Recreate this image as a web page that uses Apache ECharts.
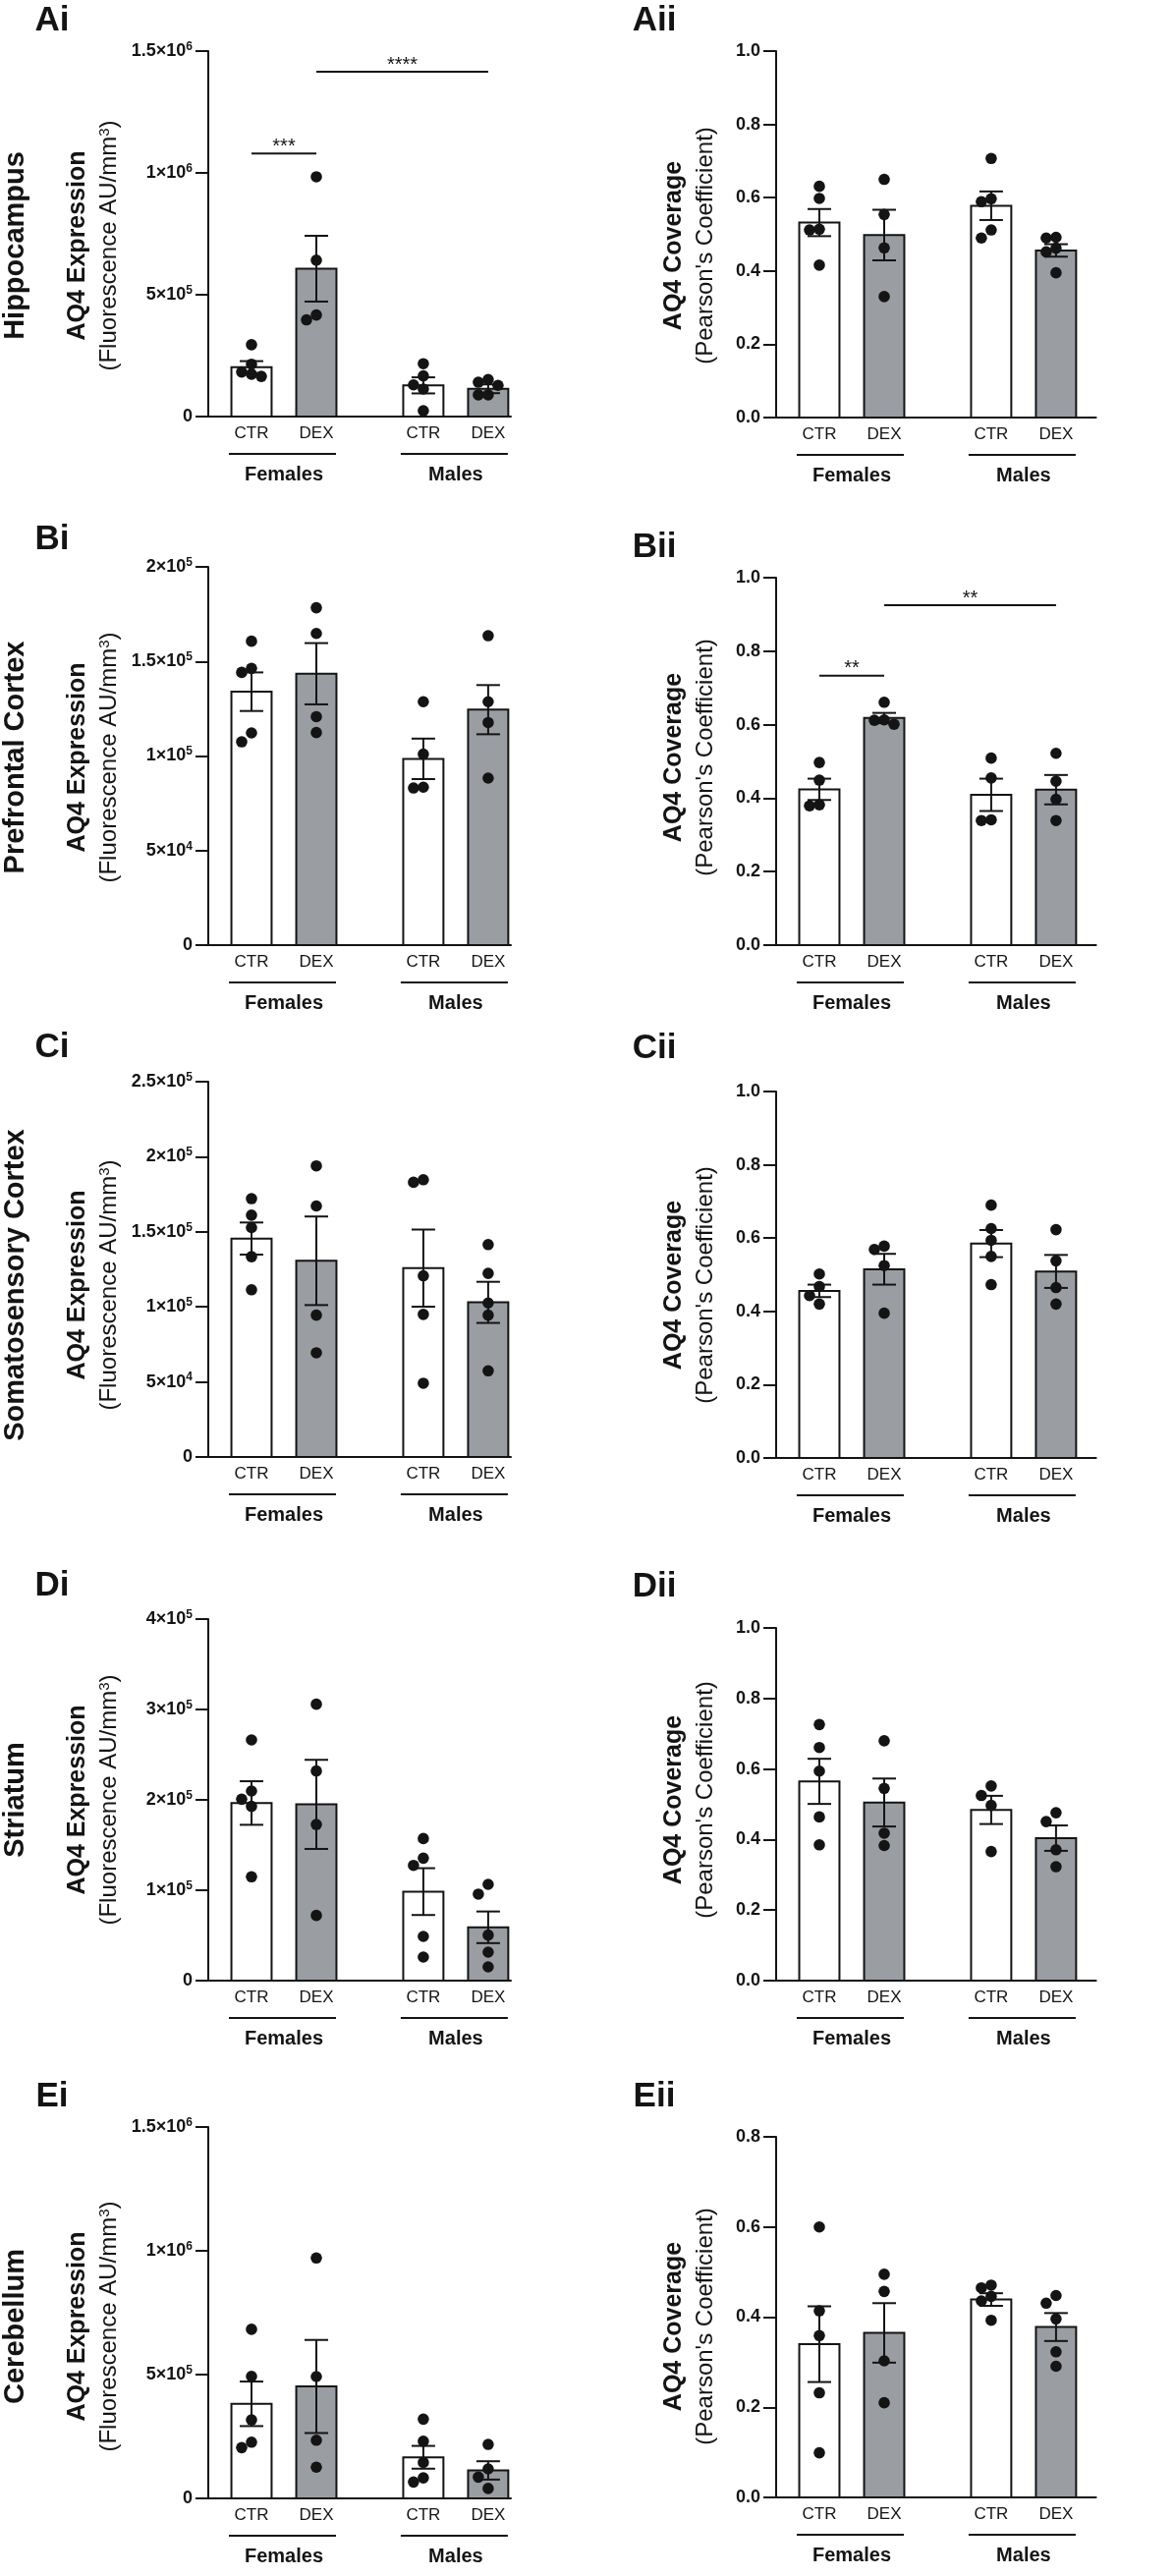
<!DOCTYPE html>
<html>
<head>
<meta charset="utf-8">
<script src="https://cdn.jsdelivr.net/npm/echarts@6/dist/echarts.min.js"></script>
<style>
  html, body { margin: 0; padding: 0; background: #fff; }
  #chart { width: 1196px; height: 2622px; }
</style>
</head>
<body>
<div id="chart"></div>
<script>
// ---- data ----
var groupLabels = ["CTR", "DEX", "CTR", "DEX"];
var sexLabels = ["Females", "Males"];
var regionNames = ["Hippocampus", "Prefrontal Cortex", "Somatosensory Cortex", "Striatum", "Cerebellum"];
var panelLetters = [["Ai", "Aii"], ["Bi", "Bii"], ["Ci", "Cii"], ["Di", "Dii"], ["Ei", "Eii"]];

var exprMax = [1.5e6, 2e5, 2.5e5, 4e5, 1.5e6];
var exprStep = [5e5, 5e4, 5e4, 1e5, 5e5];
var covMax = [1, 1, 1, 1, 0.8];
var covStep = 0.2;

// mean and SEM per bar: CTR F, DEX F, CTR M, DEX M
var exprMean = [
  [2.03e5, 6.07e5, 1.28e5, 1.14e5],
  [1.34e5, 1.435e5, 0.985e5, 1.245e5],
  [1.455e5, 1.307e5, 1.258e5, 1.03e5],
  [1.965e5, 1.95e5, 0.985e5, 0.59e5],
  [3.82e5, 4.52e5, 1.66e5, 1.13e5]
];
var exprSem = [
  [0.245e5, 1.35e5, 0.33e5, 0.18e5],
  [0.102e5, 0.162e5, 0.107e5, 0.13e5],
  [0.107e5, 0.295e5, 0.257e5, 0.137e5],
  [0.241e5, 0.493e5, 0.259e5, 0.175e5],
  [0.9e5, 1.88e5, 0.46e5, 0.37e5]
];
var exprPoints = [
  [[2.95e5, 2.15e5, 1.83e5, 1.74e5, 1.65e5], [9.84e5, 6.42e5, 4.17e5, 3.97e5], [2.17e5, 1.67e5, 1.30e5, 1.13e5, 0.24e5], [1.52e5, 1.41e5, 1.28e5, 0.89e5, 0.89e5]],
  [[1.607e5, 1.463e5, 1.442e5, 1.122e5, 1.075e5], [1.784e5, 1.648e5, 1.208e5, 1.124e5], [1.287e5, 1.010e5, 0.835e5, 0.831e5], [1.636e5, 1.287e5, 1.177e5, 0.883e5]],
  [[1.721e5, 1.611e5, 1.528e5, 1.334e5, 1.114e5], [1.939e5, 1.672e5, 0.945e5, 0.694e5], [1.847e5, 1.830e5, 1.207e5, 0.950e5, 0.491e5], [1.415e5, 1.223e5, 1.026e5, 0.945e5, 0.574e5]],
  [[2.663e5, 2.098e5, 2.007e5, 1.928e5, 1.149e5], [3.058e5, 2.319e5, 1.728e5, 0.721e5], [1.572e5, 1.355e5, 1.275e5, 0.489e5, 0.261e5], [1.065e5, 0.957e5, 0.504e5, 0.315e5, 0.152e5]],
  [[6.83e5, 4.93e5, 3.17e5, 2.27e5, 2.05e5], [9.71e5, 4.92e5, 2.35e5, 1.26e5], [3.20e5, 2.31e5, 1.45e5, 0.83e5, 0.66e5], [2.18e5, 1.19e5, 0.86e5, 0.40e5]]
];

var covMean = [
  [0.532, 0.498, 0.578, 0.456],
  [0.424, 0.618, 0.409, 0.423],
  [0.456, 0.515, 0.585, 0.509],
  [0.565, 0.505, 0.484, 0.404],
  [0.340, 0.365, 0.439, 0.378]
];
var covSem = [
  [0.037, 0.069, 0.039, 0.017],
  [0.029, 0.014, 0.044, 0.040],
  [0.017, 0.042, 0.037, 0.045],
  [0.064, 0.068, 0.040, 0.036],
  [0.084, 0.066, 0.014, 0.031]
];
var covPoints = [
  [[0.631, 0.598, 0.514, 0.512, 0.416], [0.650, 0.554, 0.463, 0.330], [0.707, 0.597, 0.589, 0.512, 0.490], [0.492, 0.490, 0.462, 0.452, 0.395]],
  [[0.497, 0.449, 0.382, 0.379], [0.661, 0.613, 0.612, 0.601], [0.509, 0.455, 0.341, 0.339], [0.522, 0.446, 0.397, 0.339]],
  [[0.502, 0.468, 0.443, 0.420], [0.578, 0.569, 0.525, 0.395], [0.690, 0.626, 0.594, 0.550, 0.473], [0.623, 0.538, 0.465, 0.420]],
  [[0.726, 0.661, 0.594, 0.464, 0.385], [0.680, 0.545, 0.418, 0.383], [0.552, 0.525, 0.497, 0.366], [0.476, 0.451, 0.371, 0.323]],
  [[0.600, 0.414, 0.359, 0.232, 0.099], [0.495, 0.457, 0.303, 0.210], [0.471, 0.465, 0.446, 0.436, 0.393], [0.448, 0.431, 0.396, 0.323, 0.291]]
];

// significance bars: [from bar, to bar, height, label]
var exprSig = [[[0, 1, 1.08e6, "***"], [1, 3, 1.415e6, "****"]], [], [], [], []];
var covSig = [[], [[0, 1, 0.733, "**"], [1, 3, 0.925, "**"]], [], [], []];

(function () {
  "use strict";

  // ---- layout ----
  var FONT = '"Liberation Sans", Arial, Helvetica, sans-serif';
  var INK = "#141414";
  var GRAY = "#9a9da2";
  var UNIT = 22;                       // px per x unit
  var barX = [2, 5, 9.95, 12.95];      // bar centres in x units
  var BAR_W = 1.86;
  var colAxisX = [212, 790];
  var colXMax = [14, 14.8];
  var rowTop = [[52, 52], [577, 588], [1101, 1111], [1648, 1657], [2165, 2175]];
  var rowZero = [[424, 425], [962, 962], [1483, 1484], [2016, 2016], [2543, 2542]];
  var letterY = [[21, 21], [549, 557], [1066, 1067], [1614, 1615], [2134, 2134]];
  var letterX = [53, 666];
  var titleY = [250, 771, 1308, 1832, 2368];
  var titleX = [[79, 111], [686, 718]];
  var DOT_R = 5.8;

  function sciLabel(v) {
    if (v === 0) return "{m|0}";
    var e = Math.floor(Math.log10(v) + 1e-9);
    var m = Math.round(v / Math.pow(10, e) * 10) / 10;
    return "{m|" + m + "\u00d710}{e|" + e + "}";
  }

  // simple beeswarm: horizontal pixel offsets so dots do not pile up
  function swarm(values, pxPerUnit) {
    var placed = [], out = [];
    values.forEach(function (v) {
      var y = v * pxPerUnit;
      var steps = [0, -1, 1, -2, 2, -3, 3];
      for (var s = 0; s < steps.length; s++) {
        var dx = steps[s] * 10;
        var ok = placed.every(function (p) {
          return (p.dx - dx) * (p.dx - dx) + (p.y - y) * (p.y - y) >= 99.9;
        });
        if (ok) { placed.push({ dx: dx, y: y }); out.push(dx); return; }
      }
      out.push(0);
    });
    return out;
  }

  function txt(text, x, y, font, align, vAlign) {
    return {
      text: text, x: x, y: y, font: font, fill: INK,
      align: align, verticalAlign: vAlign, textAlign: align, textVerticalAlign: vAlign
    };
  }

  function renderBar(params, api) {
    var x = api.value(0), m = api.value(1), k = api.value(3);
    var p = api.coord([x, m]), b = api.coord([x, 0]);
    var w = api.size([BAR_W, 0])[0];
    return {
      type: "rect",
      shape: { x: p[0] - w / 2, y: p[1], width: w, height: b[1] - p[1] },
      style: { fill: k % 2 ? GRAY : "#fff", stroke: INK, lineWidth: 2 }
    };
  }

  function renderErr(params, api) {
    var x = api.value(0), m = api.value(1), s = api.value(2);
    var t = api.coord([x, m + s]), bt = api.coord([x, m - s]);
    var hw = 12, st = { stroke: INK, lineWidth: 2 };
    return {
      type: "group",
      children: [
        { type: "line", shape: { x1: t[0], y1: t[1], x2: bt[0], y2: bt[1] }, style: st },
        { type: "line", shape: { x1: t[0] - hw, y1: t[1], x2: t[0] + hw, y2: t[1] }, style: st },
        { type: "line", shape: { x1: bt[0] - hw, y1: bt[1], x2: bt[0] + hw, y2: bt[1] }, style: st }
      ]
    };
  }

  function renderDot(params, api) {
    var c = api.coord([api.value(0), api.value(1)]);
    return { type: "circle", shape: { cx: c[0] + api.value(2), cy: c[1], r: DOT_R }, style: { fill: INK } };
  }

  function renderCat(params, api) {
    var p = api.coord([api.value(0), 0]);
    return { type: "text", style: txt(groupLabels[api.value(1)], p[0], p[1] + 17, "17px " + FONT, "center", "middle") };
  }

  function renderSex(params, api) {
    var a = api.coord([api.value(0), 0]), b = api.coord([api.value(1), 0]);
    return {
      type: "group",
      children: [
        { type: "line", shape: { x1: a[0] - 23, y1: a[1] + 38, x2: b[0] + 20, y2: a[1] + 38 }, style: { stroke: INK, lineWidth: 2 } },
        { type: "text", style: txt(sexLabels[api.value(2)], (a[0] + b[0]) / 2, a[1] + 59, "bold 20px " + FONT, "center", "middle") }
      ]
    };
  }

  function sigRenderer(list) {
    return function (params, api) {
      var a = api.coord([api.value(0), api.value(2)]), b = api.coord([api.value(1), api.value(2)]);
      return {
        type: "group",
        children: [
          { type: "line", shape: { x1: a[0], y1: a[1], x2: b[0], y2: b[1] }, style: { stroke: INK, lineWidth: 2 } },
          { type: "text", style: txt(list[api.value(3)][3], (a[0] + b[0]) / 2, a[1] + 3, "20px " + FONT, "center", "bottom") }
        ]
      };
    };
  }

  function label(text, x, y, font, rotation, rich) {
    var st = { text: text, font: font, fill: INK, align: "center", verticalAlign: "middle", textAlign: "center", textVerticalAlign: "middle" };
    if (rich) st.rich = rich;
    return { type: "text", x: x, y: y, rotation: rotation, style: st };
  }

  var grids = [], xAxes = [], yAxes = [], series = [], graphics = [];

  for (var r = 0; r < 5; r++) {
    for (var c = 0; c < 2; c++) {
      var i = r * 2 + c;
      var isExpr = c === 0;
      var means = isExpr ? exprMean[r] : covMean[r];
      var sems = isExpr ? exprSem[r] : covSem[r];
      var pts = isExpr ? exprPoints[r] : covPoints[r];
      var sig = isExpr ? exprSig[r] : covSig[r];
      var yMax = isExpr ? exprMax[r] : covMax[r];
      var step = isExpr ? exprStep[r] : covStep;
      var gTop = rowTop[r][c], gZero = rowZero[r][c], gH = gZero - gTop;

      grids.push({ left: colAxisX[c], top: gTop, width: colXMax[c] * UNIT, height: gH });
      xAxes.push({
        gridIndex: i, type: "value", min: 0, max: colXMax[c],
        axisLine: { show: true, onZero: false, lineStyle: { color: INK, width: 2 } },
        axisTick: { show: false }, axisLabel: { show: false }, splitLine: { show: false }
      });
      yAxes.push({
        gridIndex: i, type: "value", min: 0, max: yMax, interval: step,
        axisLine: { show: true, lineStyle: { color: INK, width: 2 } },
        axisTick: { show: true, length: 13, lineStyle: { color: INK, width: 2 } },
        splitLine: { show: false },
        axisLabel: {
          margin: 16,
          formatter: isExpr ? sciLabel : function (v) { return "{m|" + v.toFixed(1) + "}"; },
          rich: {
            m: { fontFamily: FONT, fontWeight: "bold", fontSize: 18, color: INK, lineHeight: 21 },
            e: { fontFamily: FONT, fontWeight: "bold", fontSize: 12, color: INK, verticalAlign: "top", lineHeight: 12 }
          }
        }
      });

      var pxPerUnit = gH / yMax;
      var barData = [], dotData = [];
      for (var k = 0; k < 4; k++) {
        barData.push([barX[k], means[k], sems[k], k]);
        var vals = pts[k].slice().sort(function (a, b) { return b - a; });
        var offs = swarm(vals, pxPerUnit);
        for (var j = 0; j < vals.length; j++) dotData.push([barX[k], vals[j], offs[j]]);
      }
      var base = { type: "custom", coordinateSystem: "cartesian2d", xAxisIndex: i, yAxisIndex: i, clip: false, silent: true };
      series.push(Object.assign({}, base, { renderItem: renderBar, data: barData, z: 2 }));
      series.push(Object.assign({}, base, { renderItem: renderDot, data: dotData, z: 3 }));
      series.push(Object.assign({}, base, { renderItem: renderErr, data: barData.slice(), z: 4 }));
      series.push(Object.assign({}, base, {
        renderItem: renderCat, z: 4,
        data: barX.map(function (x, kk) { return [x, kk]; })
      }));
      series.push(Object.assign({}, base, {
        renderItem: renderSex, z: 4,
        data: [[barX[0], barX[1], 0], [barX[2], barX[3], 1]]
      }));
      if (sig.length) {
        series.push(Object.assign({}, base, {
          renderItem: sigRenderer(sig), z: 4,
          data: sig.map(function (s, jj) { return [barX[s[0]], barX[s[1]], s[2], jj]; })
        }));
      }

      graphics.push(label(panelLetters[r][c], letterX[c], letterY[r][c], "bold 35px " + FONT, 0));
      graphics.push(label(isExpr ? "AQ4 Expression" : "AQ4 Coverage", titleX[c][0], titleY[r], "bold 25px " + FONT, Math.PI / 2));
      graphics.push(label(isExpr ? "(Fluorescence AU/mm{e|3})" : "(Pearson's Coefficient)", titleX[c][1], titleY[r], "24px " + FONT, Math.PI / 2,
        { e: { fontFamily: FONT, fontSize: 15, fill: INK, verticalAlign: "top", lineHeight: 15 } }));
    }
    graphics.push(label(regionNames[r], 16, titleY[r], "bold 29px " + FONT, Math.PI / 2));
  }

  var chart = echarts.init(document.getElementById("chart"), null, { renderer: "canvas" });
  chart.setOption({
    animation: false,
    backgroundColor: "#fff",
    grid: grids,
    xAxis: xAxes,
    yAxis: yAxes,
    series: series,
    graphic: { elements: graphics }
  });
})();
</script>
</body>
</html>
